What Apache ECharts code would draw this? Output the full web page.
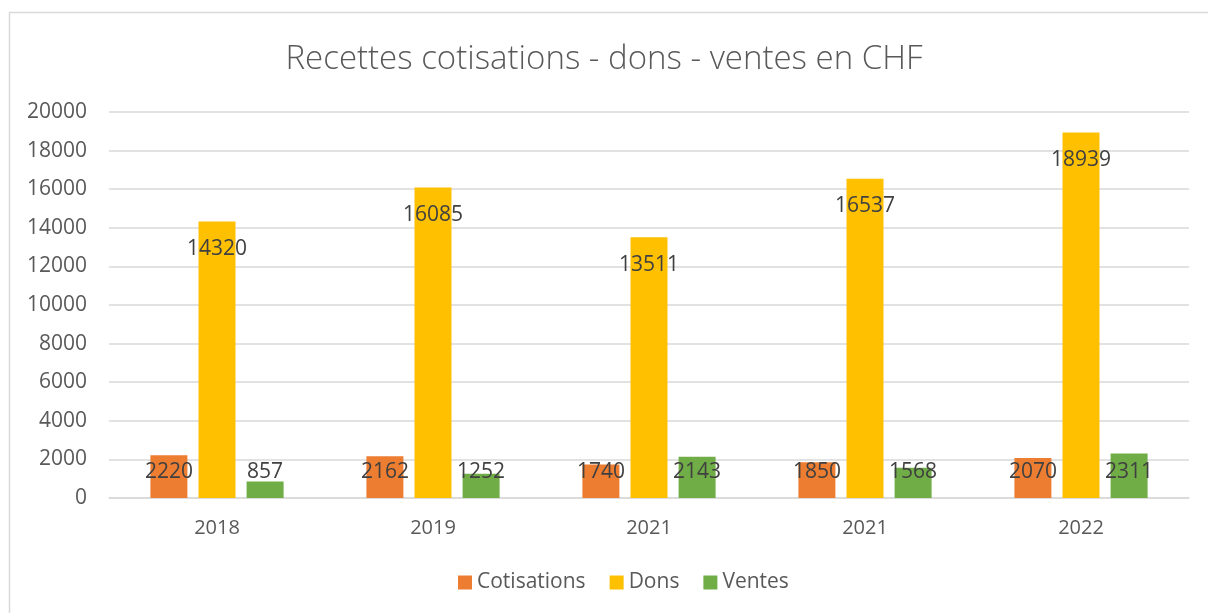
<!DOCTYPE html>
<html>
<head>
<meta charset="utf-8">
<script src="https://cdn.jsdelivr.net/npm/echarts@6/dist/echarts.min.js"></script>
<style>
  html, body { margin: 0; padding: 0; background: #fff; }
  #main { width: 1208px; height: 613px; }
</style>
</head>
<body>
<div id="main"></div>
<script>
var years = ['2018', '2019', '2021', '2021', '2022'];
var cotisations = [2220, 2162, 1740, 1850, 2070];
var dons = [14320, 16085, 13511, 16537, 18939];
var ventes = [857, 1252, 2143, 1568, 2311];

var chartDom = document.getElementById('main');
var myChart = echarts.init(chartDom);
var option;

var FONT = '"Open Sans", "Noto Sans", sans-serif';

// Excel puts "inside end" labels of short bars at the bottom of the plot
function withLabels(values) {
  return values.map(function (v) {
    var small = v < 2700;
    return {
      value: v,
      label: small
        ? { position: 'insideBottom', distance: 15 }
        : { position: 'insideTop', distance: 17 }
    };
  });
}

function barSeries(name, values, color) {
  return {
    name: name,
    type: 'bar',
    barWidth: 37,
    barGap: '30%',
    itemStyle: { color: color },
    label: {
      show: true,
      color: '#404040',
      fontSize: 21,
      fontFamily: FONT
    },
    data: withLabels(values)
  };
}

option = {
  animation: false,
  textStyle: { fontFamily: FONT },
  title: {
    text: 'Recettes cotisations - dons - ventes en CHF',
    left: 'center',
    top: 38,
    textStyle: {
      color: '#595959',
      fontSize: 33,
      fontWeight: 300,
      fontFamily: FONT
    }
  },
  graphic: [{
    type: 'rect',
    silent: true,
    shape: { x: 9.5, y: 12.5, width: 1300, height: 700 },
    style: { fill: 'none', stroke: '#d9d9d9', lineWidth: 1.5 }
  }],
  legend: {
    bottom: 15,
    left: 453,
    itemWidth: 14,
    itemHeight: 14,
    itemGap: 24,
    icon: 'rect',
    textStyle: { color: '#595959', fontSize: 21, fontFamily: FONT }
  },
  grid: { left: 109, right: 19, top: 112, bottom: 115 },
  xAxis: {
    type: 'category',
    data: years,
    axisTick: { show: false },
    axisLine: { lineStyle: { color: '#d9d9d9', width: 1.5 } },
    axisLabel: { color: '#595959', fontSize: 20, margin: 20, fontFamily: FONT }
  },
  yAxis: {
    type: 'value',
    min: 0,
    max: 20000,
    interval: 2000,
    axisLabel: {
      color: '#595959',
      fontSize: 21,
      margin: 22,
      fontFamily: FONT,
      formatter: function (v) { return String(v); }
    },
    splitLine: { lineStyle: { color: '#d9d9d9', width: 1.5 } }
  },
  series: [
    barSeries('Cotisations', cotisations, '#ED7D31'),
    barSeries('Dons', dons, '#FFC000'),
    barSeries('Ventes', ventes, '#70AD47')
  ]
};

if (chartDom && myChart) {
  myChart.setOption(option);
} else {
  console.error('Failed to initialize the chart');
}
</script>
</body>
</html>
